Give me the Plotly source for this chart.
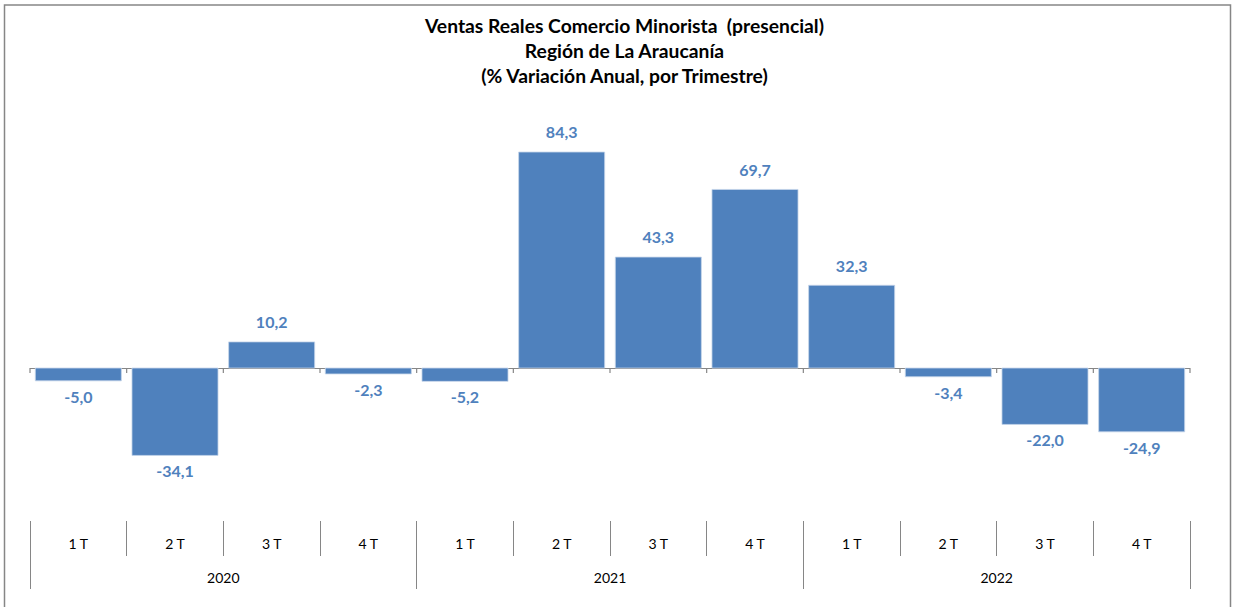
import plotly.graph_objects as go

# data
years = ["2020"] * 4 + ["2021"] * 4 + ["2022"] * 4
quarters = ["1 T", "2 T", "3 T", "4 T"] * 3
variation = [-5.0, -34.1, 10.2, -2.3, -5.2, 84.3, 43.3, 69.7, 32.3, -3.4, -22.0, -24.9]

BAR = "#4F81BD"
GRID = "#868686"
FONT = "Lato, Open Sans, sans-serif"

n = len(variation)
year_names = list(dict.fromkeys(years))
year_pos = [sum(i for i, y in enumerate(years) if y == yr) / years.count(yr) for yr in year_names]
year_edges = [-0.5] + [max(i for i, y in enumerate(years) if y == yr) + 0.5 for yr in year_names]

fig = go.Figure()
fig.add_trace(go.Bar(
    x=[years, quarters], y=variation,
    marker=dict(color=BAR, line=dict(color="#C6D5EA", width=0.8)),
    hoverinfo="skip",
))
# value labels, pushed a little away from the bar ends
fig.add_trace(go.Scatter(
    x=[years, quarters], y=variation, mode="markers+text",
    marker=dict(size=14, opacity=0),
    texttemplate="%{y:.1f}",
    textposition=["top center" if v >= 0 else "bottom center" for v in variation],
    textfont=dict(color=BAR, size=16, family=FONT, weight="bold"),
    cliponaxis=False, hoverinfo="skip",
))
# empty traces so the two label axes get drawn
for ax in ("x2", "x3"):
    fig.add_trace(go.Scatter(x=[None], y=[None], xaxis=ax, yaxis="y",
                             mode="markers", hoverinfo="skip"))

shapes = []
# small ticks under the zero line at category boundaries
for i in range(n + 1):
    shapes.append(dict(type="line", xref="paper", yref="y", x0=i / n, x1=i / n,
                       ysizemode="pixel", yanchor=0, y0=0, y1=-5,
                       line=dict(color=GRID, width=1.2)))
# outer chart border
shapes.append(dict(type="rect", xref="paper", yref="paper",
                   x0=(4.5 - 30) / 1160, x1=(1230.5 - 30) / 1160,
                   y0=(520 - 640) / 420, y1=(520 - 5) / 420,
                   line=dict(color=GRID, width=1.5), layer="above"))

fig.update_layout(
    width=1234, height=607,
    margin=dict(l=30, r=44, t=100, b=87),
    paper_bgcolor="white", plot_bgcolor="white",
    separators=",.",
    showlegend=False,
    bargap=0.11,
    font=dict(family=FONT, color="#000000"),
    shapes=shapes,
    annotations=[dict(
        text="Ventas Reales Comercio Minorista  (presencial)<br>Región de La Araucanía<br>(% Variación Anual, por Trimestre)",
        xref="paper", yref="paper", x=(624 - 30) / 1160, y=(520 - 51) / 420,
        xanchor="center", yanchor="middle", showarrow=False,
        font=dict(size=19.3, family=FONT, weight="bold", color="#000000"),
    )],
    xaxis=dict(type="multicategory", visible=False, range=[-0.5, n - 0.5]),
    # quarter row
    xaxis2=dict(
        overlaying="x", anchor="y", side="bottom", range=[-0.5, n - 0.5],
        showgrid=False, zeroline=False, showline=False, ticks="",
        tickmode="array", tickvals=list(range(n)), ticktext=quarters,
        ticklabelstandoff=14, tickfont=dict(size=14, family=FONT, color="#000000"),
        minor=dict(tickmode="array", tickvals=[i - 0.5 for i in range(n + 1)],
                   ticks="outside", ticklen=35, tickcolor=GRID, tickwidth=1.2, showgrid=False),
    ),
    # year row
    xaxis3=dict(
        overlaying="x", anchor="y", side="bottom", range=[-0.5, n - 0.5],
        showgrid=False, zeroline=False, showline=False, ticks="",
        tickmode="array", tickvals=year_pos, ticktext=year_names,
        ticklabelstandoff=48, tickfont=dict(size=14, family=FONT, color="#000000"),
        minor=dict(tickmode="array", tickvals=year_edges,
                   ticks="outside", ticklen=68, tickcolor=GRID, tickwidth=1.2, showgrid=False),
    ),
)
fig.update_yaxes(
    range=[-59.3, 104.6], showgrid=False, showticklabels=False, ticks="",
    zeroline=True, zerolinecolor=GRID, zerolinewidth=1.2,
)

fig.write_html("out.html", config={"displayModeBar": False},
               post_script="document.body.style.margin='0';")
